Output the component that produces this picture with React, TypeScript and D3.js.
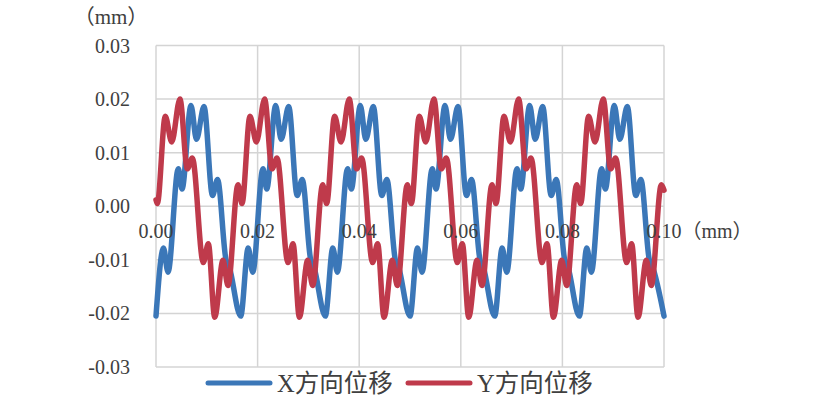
import React from "react";
import * as d3 from "d3";

const yTicks = [0.03, 0.02, 0.01, 0, -0.01, -0.02, -0.03];
const yTickLabels = ["0.03", "0.02", "0.01", "0.00", "-0.01", "-0.02", "-0.03"];
const xTicks = [0, 0.02, 0.04, 0.06, 0.08, 0.1];
const xTickLabels = ["0.00", "0.02", "0.04", "0.06", "0.08", "0.10"];
const unitLabel = "（mm）";
const seriesNames = ["X方向位移", "Y方向位移"];

// X方向位移 (mm) sampled at its turning points
const xDispPos = [
  0, 0.00148, 0.00236, 0.00439, 0.00512, 0.00689, 0.00797, 0.00945, 0.01112, 0.01211, 0.01378, 0.01437,
  0.01667, 0.01815, 0.01903, 0.02106, 0.02179, 0.02356, 0.02464, 0.02612, 0.02779, 0.02878, 0.03045, 0.03104,
  0.03333, 0.03481, 0.03569, 0.03772, 0.03845, 0.04022, 0.0413, 0.04278, 0.04445, 0.04544, 0.04711, 0.0477,
  0.05, 0.05148, 0.05236, 0.05439, 0.05512, 0.05689, 0.05797, 0.05945, 0.06112, 0.06211, 0.06378, 0.06437,
  0.06667, 0.06815, 0.06903, 0.07106, 0.07179, 0.07356, 0.07464, 0.07612, 0.07779, 0.07878, 0.08045, 0.08104,
  0.08333, 0.08481, 0.08569, 0.08772, 0.08845, 0.09022, 0.0913, 0.09278, 0.09445, 0.09544, 0.09711, 0.0977,
  0.1,
];
const xDispVal = [
  -0.0205, -0.0078, -0.0123, 0.007, 0.0032, 0.0188, 0.0125, 0.0186, 0.002, 0.005, -0.01, -0.0112,
  -0.0205, -0.0078, -0.0123, 0.007, 0.0032, 0.0188, 0.0125, 0.0186, 0.002, 0.005, -0.01, -0.0112,
  -0.0205, -0.0078, -0.0123, 0.007, 0.0032, 0.0188, 0.0125, 0.0186, 0.002, 0.005, -0.01, -0.0112,
  -0.0205, -0.0078, -0.0123, 0.007, 0.0032, 0.0188, 0.0125, 0.0186, 0.002, 0.005, -0.01, -0.0112,
  -0.0205, -0.0078, -0.0123, 0.007, 0.0032, 0.0188, 0.0125, 0.0186, 0.002, 0.005, -0.01, -0.0112,
  -0.0205, -0.0078, -0.0123, 0.007, 0.0032, 0.0188, 0.0125, 0.0186, 0.002, 0.005, -0.01, -0.0112,
  -0.0205,
];

// Y方向位移 (mm) sampled at its turning points
const yDispPos = [
  0,
  0.00026, 0.00183, 0.00309, 0.00472, 0.00616, 0.00715, 0.00931, 0.0103, 0.01156, 0.01319, 0.01417, 0.01614,
  0.01693, 0.0185, 0.01976, 0.02139, 0.02283, 0.02382, 0.02598, 0.02697, 0.02823, 0.02986, 0.03084, 0.03281,
  0.03359, 0.03516, 0.03642, 0.03805, 0.03949, 0.04048, 0.04264, 0.04363, 0.04489, 0.04652, 0.0475, 0.04947,
  0.05026, 0.05183, 0.05309, 0.05472, 0.05616, 0.05715, 0.05931, 0.0603, 0.06156, 0.06319, 0.06417, 0.06614,
  0.06693, 0.0685, 0.06976, 0.07139, 0.07283, 0.07382, 0.07598, 0.07697, 0.07823, 0.07986, 0.08084, 0.08281,
  0.08359, 0.08516, 0.08642, 0.08805, 0.08949, 0.09048, 0.09264, 0.09363, 0.09489, 0.09652, 0.0975, 0.09947,
  0.1,
];
const yDispVal = [
  0.0012,
  0.0005, 0.0168, 0.012, 0.02, 0.007, 0.009, -0.0105, -0.007, -0.0207, -0.0101, -0.0148, 0.004,
  0.0005, 0.0168, 0.012, 0.02, 0.007, 0.009, -0.0105, -0.007, -0.0207, -0.0101, -0.0148, 0.004,
  0.0005, 0.0168, 0.012, 0.02, 0.007, 0.009, -0.0105, -0.007, -0.0207, -0.0101, -0.0148, 0.004,
  0.0005, 0.0168, 0.012, 0.02, 0.007, 0.009, -0.0105, -0.007, -0.0207, -0.0101, -0.0148, 0.004,
  0.0005, 0.0168, 0.012, 0.02, 0.007, 0.009, -0.0105, -0.007, -0.0207, -0.0101, -0.0148, 0.004,
  0.0005, 0.0168, 0.012, 0.02, 0.007, 0.009, -0.0105, -0.007, -0.0207, -0.0101, -0.0148, 0.004,
  0.003,
];

const W = 814;
const H = 415;
const LEFT = 156;
const RIGHT = 664;
const TOP = 45.5;
const BOTTOM = 367;
const BLUE = "#3b77b8";
const RED = "#bf3a4b";
const GRID = "#d4d4d4";
const TEXT = "#404040";
const FONT = "'Times New Roman', 'Liberation Serif', 'Noto Sans CJK SC', serif";

export default function App() {
  const x = d3.scaleLinear().domain([0, 0.1]).range([LEFT, RIGHT]);
  const y = d3.scaleLinear().domain([-0.03, 0.03]).range([BOTTOM, TOP]);
  const line = d3
    .line<[number, number]>()
    .x((d) => x(d[0]))
    .y((d) => y(d[1]))
    .curve(d3.curveMonotoneX);
  const blueData = xDispPos.map((p, i) => [p, xDispVal[i]] as [number, number]);
  const redData = yDispPos.map((p, i) => [p, yDispVal[i]] as [number, number]);
  const tenHalf = 17.5;

  return (
    <svg
      width={W}
      height={H}
      style={{ position: "absolute", left: 0, top: 0, background: "#fff" }}
      fontFamily={FONT}
    >
      {yTicks.map((t) => (
        <line key={"h" + t} x1={LEFT} x2={RIGHT} y1={y(t)} y2={y(t)} stroke={GRID} strokeWidth={1.5} />
      ))}
      {xTicks.map((t) => (
        <line key={"v" + t} x1={x(t)} x2={x(t)} y1={TOP} y2={BOTTOM} stroke={GRID} strokeWidth={1.5} />
      ))}
      <path d={line(blueData) || ""} fill="none" stroke={BLUE} strokeWidth={5.5} strokeLinejoin="round" strokeLinecap="round" />
      <path d={line(redData) || ""} fill="none" stroke={RED} strokeWidth={5.5} strokeLinejoin="round" strokeLinecap="round" />
      {yTicks.map((t, i) => (
        <text key={"yl" + t} x={130} y={y(t)} dy="0.35em" textAnchor="end" fontSize={20} fill={TEXT}>
          {yTickLabels[i]}
        </text>
      ))}
      {xTicks.map((t, i) => (
        <text key={"xl" + t} x={x(t)} y={238} textAnchor="middle" fontSize={20} fill={TEXT}>
          {xTickLabels[i]}
        </text>
      ))}
      <text x={x(0.1) + tenHalf} y={238} textAnchor="start" fontSize={20} fill={TEXT}>
        {unitLabel}
      </text>
      <text x={111} y={24} textAnchor="middle" fontSize={21} fill={TEXT}>
        {unitLabel}
      </text>
      <line x1={208} x2={270} y1={383} y2={383} stroke={BLUE} strokeWidth={5} strokeLinecap="round" />
      <text x={277} y={392} fontSize={24.5} fill={TEXT}>
        {seriesNames[0]}
      </text>
      <line x1={408} x2={470} y1={383} y2={383} stroke={RED} strokeWidth={5} strokeLinecap="round" />
      <text x={477} y={392} fontSize={24.5} fill={TEXT}>
        {seriesNames[1]}
      </text>
    </svg>
  );
}
